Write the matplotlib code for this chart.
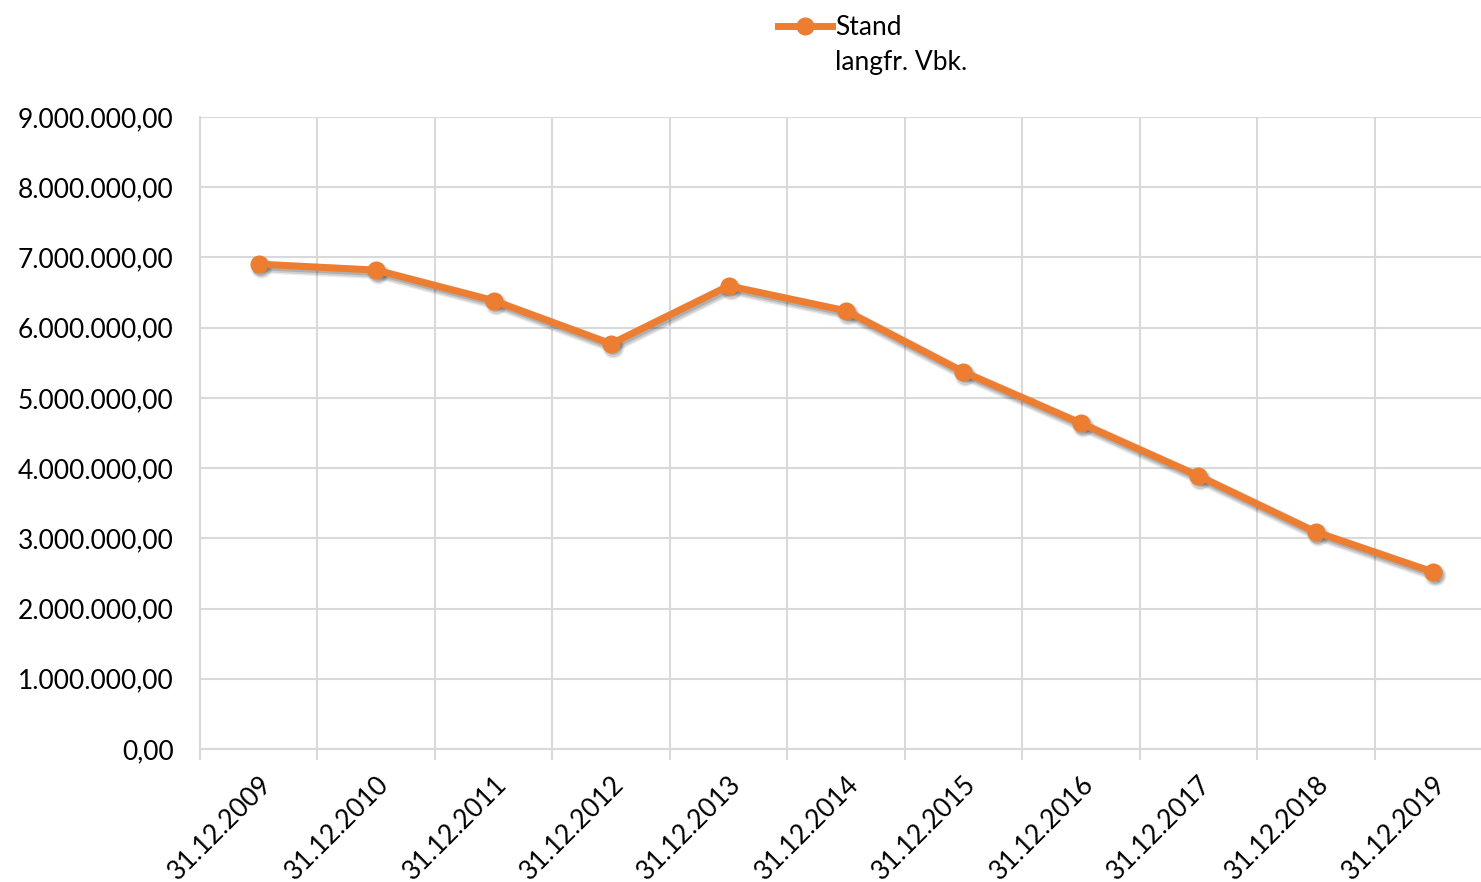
import numpy as np
import matplotlib.pyplot as plt
import matplotlib.transforms as mtransforms
from matplotlib.ticker import FuncFormatter, FixedLocator
from matplotlib.lines import Line2D

plt.rcParams['font.family'] = ['Lato', 'DejaVu Sans']

# Data
dates = ['31.12.2009', '31.12.2010', '31.12.2011', '31.12.2012', '31.12.2013', '31.12.2014',
         '31.12.2015', '31.12.2016', '31.12.2017', '31.12.2018', '31.12.2019']
stand = [6905000, 6820000, 6385000, 5770000, 6595000, 6240000,
         5370000, 4640000, 3890000, 3090000, 2520000]

orange = '#ED7D31'
grid_c = '#D9D9D9'

fig = plt.figure(figsize=(14.81, 8.82), dpi=100)
W, H = 1481, 882
# plot area runs slightly past the right edge of the image, as in the original
ax = fig.add_axes([200 / W, (H - 749) / H, 1292 / W, (749 - 117) / H])

x = np.arange(len(dates))

# soft drop shadow under the line
for dx, dy, lw, a in [(2, -3, 9, 0.08), (2, -3, 7, 0.12), (1.5, -2.5, 5, 0.15)]:
    off = ax.transData + mtransforms.ScaledTranslation(dx / 100, dy / 100, fig.dpi_scale_trans)
    ax.plot(x, stand, color='black', alpha=a, lw=lw, marker='o', ms=12 + lw - 5,
            markeredgewidth=0, transform=off, solid_joinstyle='round', zorder=2)

ax.plot(x, stand, color=orange, lw=5, marker='o', ms=12,
        markerfacecolor=orange, markeredgecolor=orange,
        solid_capstyle='round', solid_joinstyle='round', zorder=3)

ax.set_xlim(-0.5, len(dates) - 0.5)
ax.set_ylim(0, 9000000)
ax.set_yticks(np.arange(0, 9000001, 1000000))

def de_fmt(v, pos):
    s = f"{v:,.2f}"
    return s.replace(',', 'X').replace('.', ',').replace('X', '.')
ax.yaxis.set_major_formatter(FuncFormatter(de_fmt))

ax.set_xticks(x)
ax.set_xticklabels(dates, rotation=45, ha='right', va='top', rotation_mode='anchor')
ax.xaxis.set_minor_locator(FixedLocator(np.arange(-0.5, len(dates), 1.0)))
ax.tick_params(axis='x', which='major', length=0, pad=16, labelsize=19)
ax.tick_params(axis='x', which='minor', length=8, width=1.5, color=grid_c)
ax.tick_params(axis='y', length=0, pad=19, labelsize=19)

ax.grid(True, axis='y', color=grid_c, lw=1.5)
ax.grid(True, axis='x', which='minor', color=grid_c, lw=1.5)
for s in ['top', 'right']:
    ax.spines[s].set_visible(False)
for s in ['left', 'bottom']:
    ax.spines[s].set_color(grid_c)
    ax.spines[s].set_linewidth(1.5)

# legend at top
handle = Line2D([], [], color=orange, lw=5, marker='o', ms=12)
leg = fig.legend([handle], ['Stand'], loc='upper left', bbox_to_anchor=(778 / W, 1 - 15 / H),
                 frameon=False, fontsize=19, handlelength=2.05, handletextpad=0.1,
                 borderaxespad=0, borderpad=0)
fig.text(835 / W, 1 - 70 / H, 'langfr. Vbk.', fontsize=19, va='baseline', ha='left')

fig.savefig('out.png', dpi=100)
